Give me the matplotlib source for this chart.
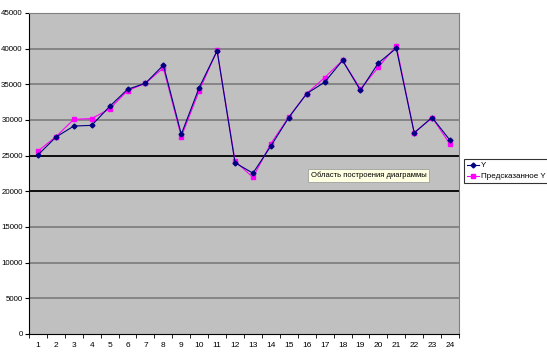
import numpy as np
import matplotlib
matplotlib.use('agg')
import matplotlib.pyplot as plt

periods = list(range(1, 25))
y_fact = [25100, 27600, 29150, 29250, 31900, 34300, 35150, 37700, 28000, 34550, 39700, 24000,
          22550, 26350, 30350, 33700, 35300, 38350, 34150, 38000, 40050, 28200, 30350, 27150]
y_pred = [25650, 27650, 30100, 30200, 31550, 34100, 35150, 37300, 27650, 34100, 39750, 24250,
          21950, 26700, 30400, 33700, 35950, 38350, 34350, 37400, 40400, 28200, 30350, 26600]
y_ticks = list(range(0, 45001, 5000))
dark_lines = [20000, 25000]

plt.rcParams['font.family'] = ['Liberation Sans', 'DejaVu Sans']

fig = plt.figure(figsize=(5.47, 3.59), dpi=100)
ax = fig.add_axes([29 / 547, 25 / 359, 430 / 547, 321 / 359])
ax.set_facecolor('#c0c0c0')

for v in y_ticks[1:]:
    ax.axhline(v, color='black' if v in dark_lines else '#808080', lw=1.3, zorder=1)

ax.plot(periods, y_fact, color='#000080', marker='D', ms=2.5, lw=0.8, label='Y', zorder=3)
ax.plot(periods, y_pred, color='#ff00ff', marker='s', ms=3.2, lw=0.8, label='Предсказанное Y', zorder=2)

ax.set_xlim(0.5, 24.5)
ax.set_ylim(0, 45000)
ax.set_yticks(y_ticks)
ax.set_yticklabels([str(v) for v in y_ticks], fontsize=5.7)
ax.set_xticks(periods)
ax.set_xticklabels([str(p) for p in periods], fontsize=6)
ax.set_xticks(np.arange(0.5, 25, 1), minor=True)
ax.tick_params(axis='x', which='major', length=0, pad=6)
ax.tick_params(axis='x', which='minor', length=3, direction='out')
ax.tick_params(axis='y', length=3, direction='out', pad=1.5)

for side in ['top', 'right']:
    ax.spines[side].set_color('#808080')
for side in ['left', 'bottom']:
    ax.spines[side].set_color('black')

leg = fig.legend(loc='upper left', bbox_to_anchor=(464 / 547, 1 - 159 / 359), fontsize=5.8,
                 frameon=True, fancybox=False, edgecolor='black', borderpad=0.35,
                 handlelength=1.5, handletextpad=0.3, labelspacing=0.4, borderaxespad=0)
leg.get_frame().set_linewidth(0.8)

fig.text(311 / 547, 1 - 175.5 / 359, 'Область построения диаграммы', fontsize=5.5, va='center',
         bbox=dict(boxstyle='square,pad=0.35', fc='#ffffe1', ec='#a0a0a0', lw=0.6))

plt.savefig('out.png', dpi=100)
